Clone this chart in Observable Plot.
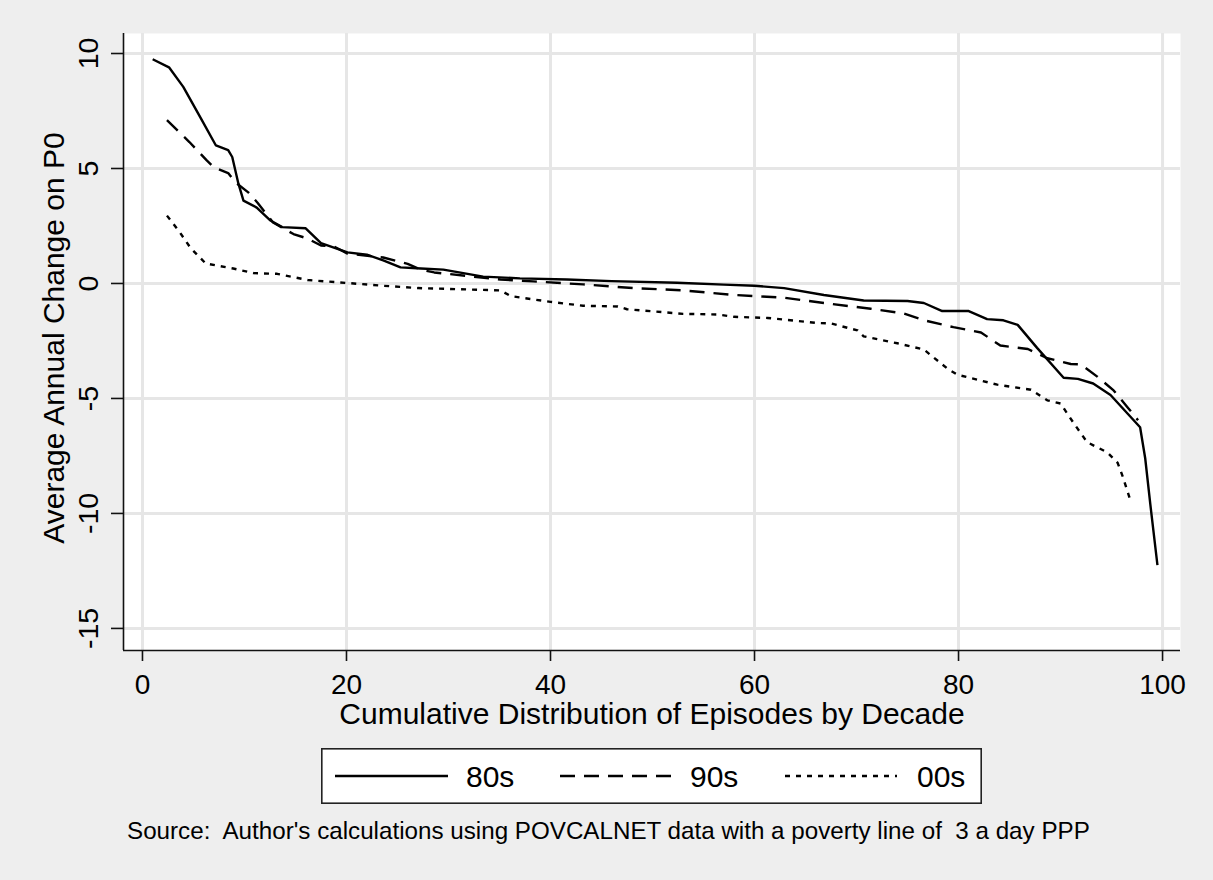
<!DOCTYPE html>
<html><head><meta charset="utf-8">
<script src="https://cdn.jsdelivr.net/npm/d3@7"></script>
<script src="https://cdn.jsdelivr.net/npm/@observablehq/plot@0.6"></script>
<style>
html,body{margin:0;padding:0;background:#eeeeee;}
#page{position:relative;width:1213px;height:880px;background:#eeeeee;font-family:"Liberation Sans",Arial,sans-serif;color:#000;overflow:hidden}
#chart svg{display:block}
#legend{position:absolute;left:321px;top:748px;}
#legend svg{display:block}
#caption{position:absolute;left:127px;top:819px;font-size:24.2px;line-height:1;white-space:pre;}
</style></head><body><div id="page"><div id="chart"></div><div id="legend"></div><div id="caption"></div></div>
<script>
// ---- data ----
const seriesNames = ["80s", "90s", "00s"];
const x80 = [1.0,2.6,4.0,5.7,7.2,8.4,8.8,9.4,9.9,11.2,12.5,13.7,16.0,17.5,20.1,22.0,23.6,25.3,27.3,29.5,33.4,37.0,41.6,46.0,52.4,57.0,60.0,62.9,66.8,70.7,75.0,76.6,78.4,81.0,82.8,84.4,85.8,87.7,90.3,91.7,93.2,94.9,97.8,98.3,98.8,99.5];
const y80 = [9.75,9.4,8.55,7.2,6.0,5.8,5.5,4.35,3.6,3.3,2.75,2.45,2.4,1.75,1.35,1.25,1.0,0.7,0.65,0.6,0.3,0.22,0.17,0.1,0.03,-0.05,-0.1,-0.2,-0.5,-0.74,-0.76,-0.85,-1.2,-1.2,-1.55,-1.6,-1.8,-2.8,-4.1,-4.15,-4.35,-4.85,-6.25,-7.6,-9.6,-12.25];
const x90 = [2.4,4.6,6.3,7.0,8.4,9.1,10.4,11.3,12.8,14.8,16.2,17.5,18.8,20.1,23.6,26.0,27.3,28.6,35.1,38.3,43.2,48.1,53.0,58.0,62.9,66.8,71.4,74.6,76.6,79.5,82.2,84.1,86.8,88.7,91.0,92.0,93.6,95.2,96.6,97.6];
const y90 = [7.1,6.15,5.35,5.05,4.8,4.4,3.95,3.5,2.65,2.15,1.95,1.65,1.6,1.3,1.13,0.85,0.6,0.48,0.17,0.09,-0.04,-0.2,-0.3,-0.5,-0.62,-0.85,-1.1,-1.3,-1.6,-1.9,-2.13,-2.7,-2.85,-3.25,-3.5,-3.52,-4.05,-4.65,-5.4,-5.95];
const x00 = [2.4,3.7,4.7,6.2,8.9,10.9,13.2,16.2,20.1,23.6,27.0,35.1,36.1,40.0,43.2,46.6,47.5,53.0,56.4,58.0,61.3,66.2,67.5,70.1,70.7,74.0,76.6,78.9,79.9,83.8,87.1,88.7,90.0,91.3,92.6,94.6,95.6,96.1,96.9];
const y00 = [2.95,2.2,1.55,0.87,0.65,0.45,0.42,0.15,0.02,-0.1,-0.2,-0.3,-0.55,-0.8,-0.97,-1.0,-1.12,-1.32,-1.35,-1.45,-1.5,-1.72,-1.74,-2.04,-2.3,-2.6,-2.87,-3.7,-3.97,-4.4,-4.62,-5.08,-5.22,-6.08,-6.9,-7.35,-7.8,-8.4,-9.5];
const xTicks = [0, 20, 40, 60, 80, 100];
const yTicks = [10, 5, 0, -5, -10, -15];
const xTitle = "Cumulative Distribution of Episodes by Decade";
const yTitle = "Average Annual Change on P0";
const caption = "Source:  Author's calculations using POVCALNET data with a poverty line of  3 a day PPP";

// ---- build ----
const xs = [x80, x90, x00], ys = [y80, y90, y00];
const rows = seriesNames.flatMap((s, i) => xs[i].map((x, j) => ({series: s, x, y: ys[i][j]})));
const dashes = {"80s": null, "90s": "15,9", "00s": "5,6"};
const xDomain = [-1.86, 101.76];
const yDomain = [-15.96, 10.87];
const FONT = '"Liberation Sans", Arial, sans-serif';

const chart = Plot.plot({
  width: 1213, height: 730,
  marginLeft: 123, marginRight: 33, marginTop: 33, marginBottom: 80,
  x: {domain: xDomain, label: null},
  y: {domain: yDomain, label: null},
  style: {background: "transparent", fontFamily: FONT, color: "#000", overflow: "visible"},
  marks: [
    Plot.frame({fill: "white", stroke: null}),
    Plot.gridX(xTicks, {stroke: "#e6e6e6", strokeOpacity: 1, strokeWidth: 3}),
    Plot.gridY(yTicks, {stroke: "#e6e6e6", strokeOpacity: 1, strokeWidth: 3}),
    ...seriesNames.map(s => Plot.line(rows.filter(d => d.series === s), {
      x: "x", y: "y", stroke: "#000", strokeWidth: 2.4,
      strokeDasharray: dashes[s], strokeLinejoin: "round", strokeLinecap: "butt"
    })),
    Plot.ruleX([xDomain[0]], {stroke: "#111", strokeWidth: 1.6}),
    Plot.ruleY([yDomain[0]], {stroke: "#111", strokeWidth: 1.6}),
    Plot.axisX({ticks: xTicks, tickSize: 11, tickFormat: () => "", label: null, stroke: "#111", strokeWidth: 1.6}),
    Plot.axisY({ticks: yTicks, tickSize: 12, tickFormat: () => "", label: null, stroke: "#111", strokeWidth: 1.6}),
    Plot.text(xTicks, {x: d => d, frameAnchor: "bottom", dy: 35, lineAnchor: "middle", textAnchor: "middle", text: d => String(d), fontSize: 28, fill: "#000"}),
    Plot.text(yTicks, {y: d => d, frameAnchor: "left", dx: -34.5, lineAnchor: "middle", textAnchor: "middle", rotate: -90, text: d => String(d), fontSize: 28.5, fill: "#000"}),
    Plot.text([xTitle], {frameAnchor: "bottom", dy: 64, lineAnchor: "middle", textAnchor: "middle", text: d => d, fontSize: 30, fill: "#000"}),
    Plot.text([yTitle], {frameAnchor: "left", dx: -69, dy: -4, lineAnchor: "middle", textAnchor: "middle", rotate: -90, text: d => d, fontSize: 30, fill: "#000"})
  ]
});
document.getElementById("chart").appendChild(chart);

// ---- legend ----
const lw = 661, lh = 56;
const lsvg = d3.select("#legend").append("svg").attr("width", lw).attr("height", lh)
  .style("font-family", FONT);
lsvg.append("rect").attr("x", 0.8).attr("y", 0.8).attr("width", lw - 1.6).attr("height", lh - 1.6)
  .attr("fill", "white").attr("stroke", "#222").attr("stroke-width", 1.6);
const legItems = [
  {name: "80s", x1: 14, x2: 127, tx: 145},
  {name: "90s", x1: 239, x2: 354, tx: 369},
  {name: "00s", x1: 464, x2: 576, tx: 596}
];
legItems.forEach(it => {
  lsvg.append("line").attr("x1", it.x1).attr("x2", it.x2).attr("y1", 28).attr("y2", 28)
    .attr("stroke", "#000").attr("stroke-width", 2.4)
    .attr("stroke-dasharray", dashes[it.name]);
  lsvg.append("text").attr("x", it.tx).attr("y", 39).attr("font-size", 30).attr("fill", "#000").text(it.name);
});

document.getElementById("caption").textContent = caption;
</script>
</body></html>
